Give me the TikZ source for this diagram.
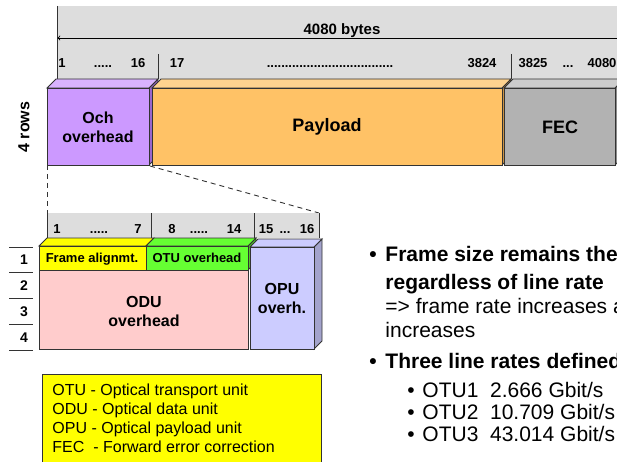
\documentclass[tikz,border=0pt]{standalone}
\usepackage{fontspec}
\setmainfont{Liberation Sans}

\definecolor{band}{HTML}{DDDDDD}
\definecolor{edge}{HTML}{333333}
\definecolor{och}{HTML}{CC99FF}
\definecolor{ochtop}{HTML}{D9B3FF}
\definecolor{ochside}{HTML}{9966CC}
\definecolor{pay}{HTML}{FFC266}
\definecolor{paytop}{HTML}{FFD38F}
\definecolor{payside}{HTML}{CC9444}
\definecolor{fec}{HTML}{B2B2B2}
\definecolor{fectop}{HTML}{CCCCCC}
\definecolor{fecside}{HTML}{8C8C8C}
\definecolor{fas}{HTML}{FFFF00}
\definecolor{otu}{HTML}{66FF33}
\definecolor{odu}{HTML}{FFCCCC}
\definecolor{opu}{HTML}{CCCCFF}
\definecolor{opuside}{HTML}{A3A3CC}

\begin{document}
\begin{tikzpicture}[x=1pt,y=1pt,line width=0.9pt]
  \tikzstyle{every node}+=[inner sep=0pt]
  \tikzstyle{colnum}=[font=\bfseries\fontsize{13}{15}\selectfont, text height=9.4pt, text depth=0pt]
  \tikzstyle{boxtext}=[font=\bfseries\fontsize{16}{19}\selectfont, align=center]
  \tikzstyle{bigtext}=[font=\bfseries\fontsize{18}{21}\selectfont]
  \tikzstyle{rowno}=[font=\bfseries\fontsize{14}{16}\selectfont, text height=10pt, text depth=0pt]
  \tikzstyle{legend}=[font=\fontsize{16}{19}\selectfont, anchor=west, text height=11.5pt, text depth=3pt]
  \tikzstyle{point}=[font=\bfseries\fontsize{21}{24}\selectfont, anchor=west, text height=15pt, text depth=4pt]
  \tikzstyle{plain}=[font=\fontsize{21}{24}\selectfont, anchor=west, text height=15pt, text depth=4pt]
  \useasboundingbox (0,0) rectangle (617,-462);
  \clip (0,0) rectangle (617,-462);
  % byte ruler on top
  \fill [band] (57,-6) rectangle (630,-79);
  \draw [edge] (57,-6) -- (57,-79);
  \draw [edge] (158,-54) -- (158,-79);
  \draw [edge] (511,-54) -- (511,-79);
  \coordinate (rulerend) at (630,-38);
  \coordinate (rulerstart) at (57.5,-38);
  \draw [black, ->] (rulerend) -- (rulerstart);
  \draw (342,-29) node (bytes) [colnum, font=\bfseries\fontsize{15}{17}\selectfont, text height=10.7pt] {4080 bytes};
  \draw (62,-63) node (c1) [colnum] {1};
  \draw (103,-63) node (c1dots) [colnum] {.....};
  \draw (138,-63) node (c16) [colnum] {16};
  \draw (177,-63) node (c17) [colnum] {17};
  \draw (330,-63) node (c17dots) [colnum] {...................................};
  \draw (482,-63) node (c3824) [colnum] {3824};
  \draw (533,-63) node (c3825) [colnum] {3825};
  \draw (568,-63) node (c3825dots) [colnum] {...};
  \draw (602,-63) node (c4080) [colnum] {4080};
  % OTU frame boxes
  \draw [edge, fill=ochside] (149,-88) -- (158,-79) -- (158,-156) -- (149,-165) -- cycle;
  \draw [edge, fill=ochtop] (47,-88) -- (56,-79) -- (158,-79) -- (149,-88) -- cycle;
  \draw [edge, fill=och] (47,-88) rectangle (149,-165);
  \draw [edge, fill=payside] (502,-88) -- (511,-79) -- (511,-156) -- (502,-165) -- cycle;
  \draw [edge, fill=paytop] (152,-88) -- (161,-79) -- (511,-79) -- (502,-88) -- cycle;
  \draw [edge, fill=pay] (152,-88) rectangle (502,-165);
  \draw [edge, fill=fecside] (615,-88) -- (624,-79) -- (624,-156) -- (615,-165) -- cycle;
  \draw [edge, fill=fectop] (504,-88) -- (513,-79) -- (624,-79) -- (615,-88) -- cycle;
  \draw [edge, fill=fec] (504,-88) rectangle (615,-165);
  \draw (98,-127) node (ochtxt) [boxtext] {Och\\overhead};
  \draw (327,-127) node (paytxt) [bigtext] {Payload};
  \draw (560,-127) node (fectxt) [bigtext] {FEC};
  \draw (24,-127) node (rows) [font=\bfseries\fontsize{16}{19}\selectfont, rotate=90] {4 rows};
  % zoom into the overhead
  \coordinate (ochbl) at (47,-165);
  \coordinate (ochbr) at (150,-166);
  \coordinate (zoombl) at (47,-213);
  \coordinate (zoombr) at (319,-213);
  \draw [edge, dash pattern=on 5pt off 4pt] (ochbl) -- (zoombl);
  \draw [edge, dash pattern=on 5pt off 4pt] (ochbr) -- (zoombr);
  \fill [band] (47,-213) rectangle (319,-238);
  \foreach \x in {47,151,254,319}
    \draw [edge] (\x,-213) -- (\x,-238);
  \draw (57,-229) node (o1) [colnum] {1};
  \draw (99,-229) node (o1dots) [colnum] {.....};
  \draw (138,-229) node (o7) [colnum] {7};
  \draw (172,-229) node (o8) [colnum] {8};
  \draw (199,-229) node (o8dots) [colnum] {.....};
  \draw (234,-229) node (o14) [colnum] {14};
  \draw (266,-229) node (o15) [colnum] {15};
  \draw (285,-229) node (o15dots) [colnum] {...};
  \draw (307,-229) node (o16) [colnum] {16};
  % overhead boxes
  \draw [edge, fill=fas] (39,-246) -- (47,-238) -- (154,-238) -- (146,-246) -- cycle;
  \draw [edge, fill=otu!80!black] (248,-246) -- (256,-238) -- (256,-262) -- (248,-270) -- cycle;
  \draw [edge, fill=otu] (146,-246) -- (154,-238) -- (256,-238) -- (248,-246) -- cycle;
  \draw [edge, fill=fas] (39,-246) rectangle (146,-270);
  \draw [edge, fill=otu] (146,-246) rectangle (248,-270);
  \draw [edge, fill=odu] (39,-270) rectangle (248,-349);
  \draw [edge, fill=opuside] (314,-247) -- (322,-239) -- (322,-341) -- (314,-349) -- cycle;
  \draw [edge, fill=opu] (250,-247) -- (258,-239) -- (322,-239) -- (314,-247) -- cycle;
  \draw [edge, fill=opu] (250,-247) rectangle (314,-349);
  \draw (92,-258) node (fastxt) [colnum] {Frame alignmt.};
  \draw (197,-258) node (otutxt) [colnum] {OTU overhead};
  \draw (144,-311) node (odutxt) [boxtext] {ODU\\overhead};
  \draw (282,-298) node (oputxt) [boxtext] {OPU\\overh.};
  % row numbers
  \foreach \y in {247,272,298,324,350}
    \draw [edge] (9,-\y) -- (33,-\y);
  \draw (24,-259) node (r1) [rowno] {1};
  \draw (24,-285) node (r2) [rowno] {2};
  \draw (24,-311) node (r3) [rowno] {3};
  \draw (24,-337) node (r4) [rowno] {4};
  % abbreviations
  \draw [edge, fill=fas] (42,-374) rectangle (321,-470);
  \draw (52,-391) node (lotu) [legend] {OTU - Optical transport unit};
  \draw (52,-410) node (lodu) [legend] {ODU - Optical data unit};
  \draw (52,-429) node (lopu) [legend] {OPU - Optical payload unit};
  \draw (52,-448) node (lfec) [legend] {FEC\ \ - Forward error correction};
  % bullet points
  \draw (369,-256) node (b1) [point] {\textbullet};
  \draw (385,-256) node (t1) [point] {Frame size remains the};
  \draw (385,-284) node (t2) [point] {regardless of line rate};
  \draw (385,-308) node (t3) [plain] {=> frame rate increases a};
  \draw (385,-332) node (t4) [plain] {increases};
  \draw (369,-363) node (b2) [point] {\textbullet};
  \draw (385,-363) node (t5) [point] {Three line rates defined};
  \draw (407,-392) node (s1) [plain] {\textbullet};
  \draw (422,-392) node (u1) [plain] {OTU1\ \ 2.666 Gbit/s};
  \draw (407,-414) node (s2) [plain] {\textbullet};
  \draw (422,-414) node (u2) [plain] {OTU2\ \ 10.709 Gbit/s};
  \draw (407,-436) node (s3) [plain] {\textbullet};
  \draw (422,-436) node (u3) [plain] {OTU3\ \ 43.014 Gbit/s};
\end{tikzpicture}
\end{document}
